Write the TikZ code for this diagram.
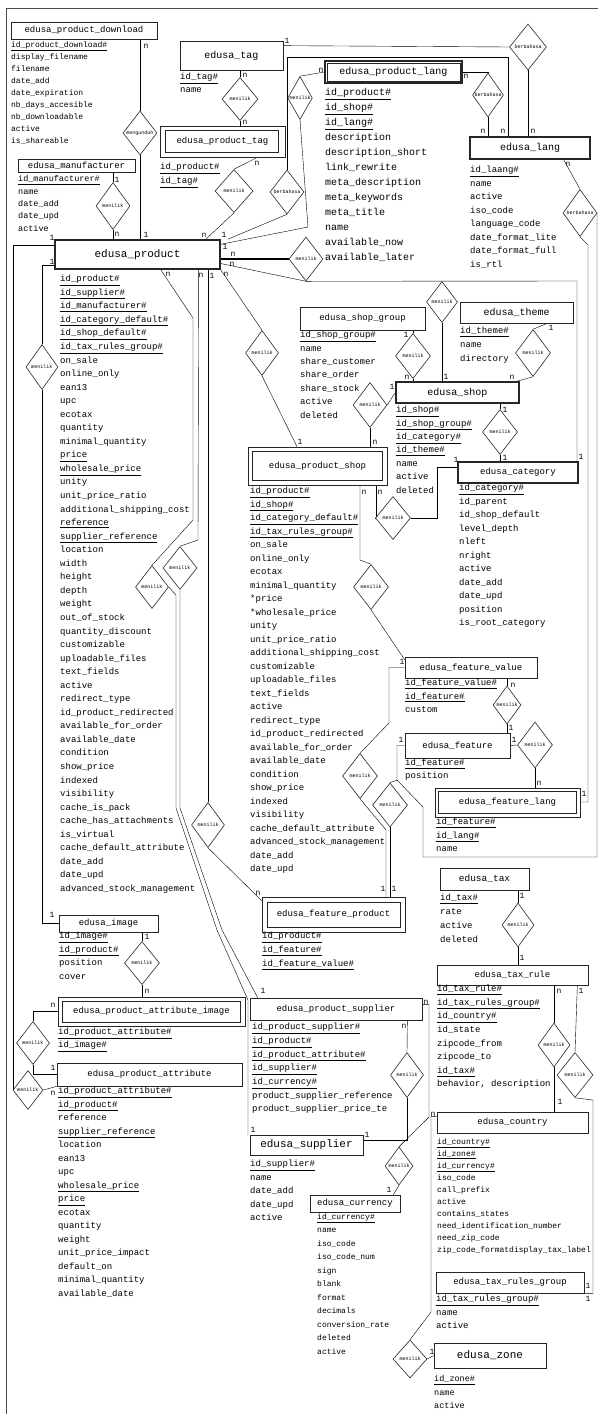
\documentclass[tikz,border=0pt]{standalone}
\usepackage{fontspec}
\setmainfont{Liberation Mono}
\usetikzlibrary{shapes.geometric,backgrounds}
\newcommand\pk[1]{\underline{#1}}
\newcommand\fsz[2]{\fontsize{#1}{#2}\selectfont}
\tikzset{
  ent/.style={draw=black!85, line width=0.7pt, inner sep=0pt, fill=white, font=\fsz{9}{11}},
  strong/.style={ent, line width=1.4pt},
  weak/.style={ent, line width=0.8pt},
  inner/.style={draw=black!85, line width=0.7pt},
  attr/.style={anchor=north west, align=left, inner sep=0pt, execute at begin node={\rule{0pt}{1em}}},
  rel/.style={draw=black!85, diamond, line width=0.6pt, inner sep=0pt, fill=white,
    minimum width=34pt, minimum height=44pt, font=\fsz{5}{6}},
  card/.style={inner sep=0pt, font=\fsz{8}{9}},
}
\begin{document}
\begin{tikzpicture}[x=1pt,y=-1pt]
	\useasboundingbox (0,0) rectangle (598,1414);
	\draw[black!70, line width=0.8pt] (6,1414) -- (6,8) -- (598,8);

	% entities, top
	\node[ent, minimum width=146pt, minimum height=17pt] (download) at (84,30.5) {edusa\_product\_download};
	\node[attr, font=\fsz{8}{12}] (download-a) at (11,41) {\pk{id\_product\_download\#}\\display\_filename\\filename\\date\_add\\date\_expiration\\nb\_days\_accesible\\nb\_downloadable\\active\\is\_shareable};
	\node[ent, minimum width=103pt, minimum height=29pt, font=\fsz{10}{12}] (tag) at (231.5,55.5) {edusa\_tag};
	\node[attr, font=\fsz{9}{13}] (tag-a) at (180,73) {\pk{id\_tag\#}\\name};
	\node[weak, minimum width=125pt, minimum height=31pt] (ptag) at (222.5,141.5) {edusa\_product\_tag};
	\draw[inner] ([shift={(6pt,-5pt)}]ptag.north west) rectangle ([shift={(-7pt,5pt)}]ptag.south east);
	\node[attr, font=\fsz{9}{14}] (ptag-a) at (160,163) {\pk{id\_product\#}\\\pk{id\_tag\#}};
	\node[ent, minimum width=117pt, minimum height=13pt] (manu) at (76.5,165.5) {edusa\_manufacturer};
	\node[attr, font=\fsz{8.5}{12.3}] (manu-a) at (18,175.5) {\pk{id\_manufacturer\#}\\name\\date\_add\\date\_upd\\active};
	\node[weak, line width=1.2pt, minimum width=137pt, minimum height=22pt, font=\fsz{10}{12}] (plang) at (393.5,72) {edusa\_product\_lang};
	\draw[inner] ([shift={(2.5pt,-2.5pt)}]plang.north west) rectangle ([shift={(-2.5pt,2.5pt)}]plang.south east);
	\node[attr, font=\fsz{10}{15}] (plang-a) at (325,88) {\pk{id\_product\#}\\\pk{id\_shop\#}\\\pk{id\_lang\#}\\description\\description\_short\\link\_rewrite\\meta\_description\\meta\_keywords\\meta\_title\\name\\available\_now\\available\_later};
	\node[strong, minimum width=120pt, minimum height=22pt, font=\fsz{10}{12}] (lang) at (530,148) {edusa\_lang};
	\node[attr, font=\fsz{9}{13.5}] (lang-a) at (470,166) {\pk{id\_laang\#}\\name\\active\\iso\_code\\language\_code\\date\_format\_lite\\date\_format\_full\\is\_rtl};

	% product
	\node[strong, minimum width=165pt, minimum height=29pt, font=\fsz{11}{13}] (product) at (137.5,254.5) {edusa\_product};
	\node[attr, font=\fsz{9}{13.55}] (product-a) at (60,275) {\pk{id\_product\#}\\\pk{id\_supplier\#}\\\pk{id\_manufacturer\#}\\\pk{id\_category\_default\#}\\\pk{id\_shop\_default\#}\\\pk{id\_tax\_rules\_group\#}\\on\_sale\\online\_only\\ean13\\upc\\ecotax\\quantity\\minimal\_quantity\\\pk{price}\\\pk{wholesale\_price}\\unity\\unit\_price\_ratio\\additional\_shipping\_cost\\\pk{reference}\\\pk{supplier\_reference}\\location\\width\\height\\depth\\weight\\out\_of\_stock\\quantity\_discount\\customizable\\uploadable\_files\\text\_fields\\active\\redirect\_type\\id\_product\_redirected\\available\_for\_order\\available\_date\\condition\\show\_price\\indexed\\visibility\\cache\_is\_pack\\cache\_has\_attachments\\is\_virtual\\cache\_default\_attribute\\date\_add\\date\_upd\\advanced\_stock\_management};

	% shop side
	\node[ent, minimum width=125pt, minimum height=23pt] (shopgroup) at (362.5,318.5) {edusa\_shop\_group};
	\node[attr, font=\fsz{9}{13.4}] (shopgroup-a) at (300,331) {\pk{id\_shop\_group\#}\\name\\share\_customer\\share\_order\\share\_stock\\active\\deleted};
	\node[ent, minimum width=113pt, minimum height=21pt, font=\fsz{10}{12}] (theme) at (516.5,312.5) {edusa\_theme};
	\node[attr, font=\fsz{9}{14}] (theme-a) at (460,327) {\pk{id\_theme\#}\\name\\directory};
	\node[strong, minimum width=123pt, minimum height=21pt, font=\fsz{10}{12}] (shop) at (457.5,392.5) {edusa\_shop};
	\node[attr, font=\fsz{9}{13.4}] (shop-a) at (396,406) {\pk{id\_shop\#}\\\pk{id\_shop\_group\#}\\\pk{id\_category\#}\\\pk{id\_theme\#}\\name\\active\\deleted};
	\node[strong, minimum width=120pt, minimum height=21pt] (category) at (518,472.5) {edusa\_category};
	\node[attr, font=\fsz{9}{13.5}] (category-a) at (459,484) {\pk{id\_category\#}\\id\_parent\\id\_shop\_default\\level\_depth\\nleft\\nright\\active\\date\_add\\date\_upd\\position\\is\_root\_category};
	\node[weak, minimum width=139pt, minimum height=38pt] (pshop) at (317.5,466) {edusa\_product\_shop};
	\draw[inner] ([shift={(5pt,-5pt)}]pshop.north west) rectangle ([shift={(-5pt,5pt)}]pshop.south east);
	\node[attr, font=\fsz{9}{13.5}] (pshop-a) at (250,487) {\pk{id\_product\#}\\\pk{id\_shop\#}\\\pk{id\_category\_default\#}\\\pk{id\_tax\_rules\_group\#}\\on\_sale\\online\_only\\ecotax\\minimal\_quantity\\*price\\*wholesale\_price\\unity\\unit\_price\_ratio\\additional\_shipping\_cost\\customizable\\uploadable\_files\\text\_fields\\active\\redirect\_type\\id\_product\_redirected\\available\_for\_order\\available\_date\\condition\\show\_price\\indexed\\visibility\\cache\_default\_attribute\\advanced\_stock\_management\\date\_add\\date\_upd};

	% feature side
	\node[ent, minimum width=132pt, minimum height=21pt] (fvalue) at (471,667.5) {edusa\_feature\_value};
	\node[attr, font=\fsz{9}{13.5}] (fvalue-a) at (405,679) {\pk{id\_feature\_value\#}\\\pk{id\_feature\#}\\custom};
	\node[ent, line width=1pt, minimum width=105pt, minimum height=25pt] (feature) at (457.5,745.5) {edusa\_feature};
	\node[attr, font=\fsz{9}{13}] (feature-a) at (405,759) {\pk{id\_feature\#}\\position};
	\node[weak, minimum width=145pt, minimum height=29pt] (flang) at (507.5,802.5) {edusa\_feature\_lang};
	\draw[inner] ([shift={(4pt,-4pt)}]flang.north west) rectangle ([shift={(-4pt,4pt)}]flang.south east);
	\node[attr, font=\fsz{9}{13.5}] (flang-a) at (436,818) {\pk{id\_feature\#}\\\pk{id\_lang\#}\\name};
	\node[weak, minimum width=143pt, minimum height=35pt] (fproduct) at (333.5,914.5) {edusa\_feature\_product};
	\draw[inner] ([shift={(5.5pt,-5.5pt)}]fproduct.north west) rectangle ([shift={(-5.5pt,5.5pt)}]fproduct.south east);
	\node[attr, font=\fsz{9}{14}] (fproduct-a) at (262,932) {\pk{id\_product\#}\\\pk{id\_feature\#}\\\pk{id\_feature\_value\#}};

	% tax side
	\node[ent, minimum width=89pt, minimum height=22pt, font=\fsz{9.5}{11}] (tax) at (484.5,879) {edusa\_tax};
	\node[attr, font=\fsz{9}{14}] (tax-a) at (440,894) {\pk{id\_tax\#}\\rate\\active\\deleted};
	\node[ent, minimum width=151pt, minimum height=20pt] (taxrule) at (512.5,975) {edusa\_tax\_rule};
	\node[attr, font=\fsz{9}{13.6}] (taxrule-a) at (437,985) {\pk{id\_tax\_rule\#}\\\pk{id\_tax\_rules\_group\#}\\\pk{id\_country\#}\\id\_state\\zipcode\_from\\zipcode\_to\\\pk{id\_tax\#}\\behavior, description};
	\node[ent, minimum width=151pt, minimum height=21pt] (country) at (512.5,1122.5) {edusa\_country};
	\node[attr, font=\fsz{8}{12}] (country-a) at (437,1138) {\pk{id\_country\#}\\\pk{id\_zone\#}\\\pk{id\_currency\#}\\iso\_code\\call\_prefix\\active\\contains\_states\\need\_identification\_number\\need\_zip\_code\\zip\_code\_formatdisplay\_tax\_label};
	\node[ent, minimum width=148pt, minimum height=21pt] (trg) at (510,1282.5) {edusa\_tax\_rules\_group};
	\node[attr, font=\fsz{9}{13.5}] (trg-a) at (436,1295) {\pk{id\_tax\_rules\_group\#}\\name\\active};
	\node[ent, minimum width=112pt, minimum height=25pt, font=\fsz{11}{13}] (zone) at (490,1355.5) {edusa\_zone};
	\node[attr, font=\fsz{8.5}{13.5}] (zone-a) at (434,1375.5) {\pk{id\_zone\#}\\name\\active};

	% supplier side
	\node[ent, minimum width=172pt, minimum height=22pt] (psup) at (336,1009) {edusa\_product\_supplier};
	\node[attr, font=\fsz{9}{13.7}] (psup-a) at (252,1023) {\pk{id\_product\_supplier\#}\\\pk{id\_product\#}\\\pk{id\_product\_attribute\#}\\\pk{id\_supplier\#}\\\pk{id\_currency\#}\\product\_supplier\_reference\\product\_supplier\_price\_te};
	\node[ent, line width=1pt, minimum width=113pt, minimum height=20pt, font=\fsz{11}{13}] (supplier) at (306.5,1145) {edusa\_supplier};
	\node[attr, font=\fsz{9}{13.5}] (supplier-a) at (250,1160) {\pk{id\_supplier\#}\\name\\date\_add\\date\_upd\\active};
	\node[ent, minimum width=90pt, minimum height=17pt] (currency) at (355,1203.5) {edusa\_currency};
	\node[attr, font=\fsz{8}{13.5}] (currency-a) at (317,1213) {\pk{id\_currency\#}\\name\\iso\_code\\iso\_code\_num\\sign\\blank\\format\\decimals\\conversion\_rate\\deleted\\active};

	% image / attribute side
	\node[ent, minimum width=99pt, minimum height=17pt] (image) at (108.5,923.5) {edusa\_image};
	\node[attr, font=\fsz{9}{13.5}] (image-a) at (59,932) {\pk{id\_image\#}\\\pk{id\_product\#}\\position\\cover};
	\node[weak, minimum width=187pt, minimum height=29pt] (aimg) at (151.5,1011.5) {edusa\_product\_attribute\_image};
	\draw[inner] ([shift={(5pt,-5pt)}]aimg.north west) rectangle ([shift={(-5pt,4pt)}]aimg.south east);
	\node[attr, font=\fsz{9}{13}] (aimg-a) at (58,1028) {\pk{id\_product\_attribute\#}\\\pk{id\_image\#}};
	\node[ent, minimum width=185pt, minimum height=23pt] (pattr) at (149.5,1074.5) {edusa\_product\_attribute};
	\node[attr, font=\fsz{9}{13.5}] (pattr-a) at (58,1087) {\pk{id\_product\_attribute\#}\\\pk{id\_product\#}\\reference\\\pk{supplier\_reference}\\location\\ean13\\upc\\\pk{wholesale\_price}\\\pk{price}\\ecotax\\quantity\\weight\\unit\_price\_impact\\default\_on\\minimal\_quantity\\available\_date};

	% relationships
	\node[rel] (dDown) at (140,133) {mengunduh};
	\node[rel, minimum height=47pt] (dManu) at (113,206) {menilik};
	\node[rel, minimum width=36pt, minimum height=43pt] (dTag) at (240,99) {menilik};
	\node[rel, minimum width=38pt, minimum height=43pt] (dPtag) at (234,191) {menilik};
	\node[rel, minimum width=24pt, minimum height=43pt] (dPlang) at (300,98) {menilik};
	\node[rel] (dBerb) at (287,192) {berbahasa};
	\node[rel, minimum width=37pt, minimum height=46pt] (dBerbTag) at (528,47) {berbahasa};
	\node[rel, minimum width=31pt] (dBerbPL) at (488,95) {berbahasa};
	\node[rel, minimum height=47pt] (dBerbL) at (580,213) {berbahasa};
	\node[rel] (dProdR) at (306,259) {menilik};
	\node[rel, minimum width=31pt, minimum height=41pt] (dShopTop) at (442,302) {menilik};
	\node[rel, minimum width=35pt, minimum height=45pt] (dSG) at (413,356) {menilik};
	\node[rel, minimum width=35pt, minimum height=47pt] (dTheme) at (533,353) {menilik};
	\node[rel, minimum width=35pt, minimum height=45pt] (dSC) at (500,432) {menilik};
	\node[rel, minimum height=45pt] (dSPS) at (370,405) {menilik};
	\node[rel, minimum width=33pt, minimum height=45pt] (dPS) at (262,353) {menilik};
	\node[rel, minimum width=35pt, minimum height=43pt] (dPSC) at (393,518) {menilik};
	\node[rel, minimum width=35pt, minimum height=45pt] (dPSF) at (371,587) {menilik};
	\node[rel, minimum width=28pt, minimum height=38pt] (dFV) at (507,705) {menilik};
	\node[rel, minimum width=35pt, minimum height=46pt] (dFL) at (535,745) {menilik};
	\node[rel, minimum width=35pt, minimum height=45pt] (dFP1) at (360,776) {menilik};
	\node[rel, minimum width=35pt] (dFP2) at (390,805) {menilik};
	\node[rel, minimum width=33pt, minimum height=43pt] (dA) at (152,587) {menilik};
	\node[rel, minimum height=43pt] (dB) at (180,568) {menilik};
	\node[rel, minimum width=33pt, minimum height=45pt] (dC) at (208,825) {menilik};
	\node[rel, minimum width=32pt, minimum height=45pt] (dPL) at (42,367) {menilik};
	\node[rel, minimum width=35pt, minimum height=43pt] (dImg) at (142,963) {menilik};
	\node[rel, minimum width=33pt, minimum height=43pt] (dAI) at (33,1043) {menilik};
	\node[rel, minimum width=30pt, minimum height=39pt] (dPA) at (28,1090) {menilik};
	\node[rel, minimum width=32pt] (dTax) at (518,925) {menilik};
	\node[rel, minimum width=32pt] (dTR1) at (554,1045) {menilik};
	\node[rel, minimum width=36pt, minimum height=45pt] (dTR2) at (575,1075) {menilik};
	\node[rel, minimum height=38pt] (dCZ) at (410,1359) {menilik};
	\node[rel, minimum width=33pt, minimum height=45pt] (dPSup) at (407,1075) {menilik};
	\node[rel, minimum width=28pt, minimum height=38pt] (dCur) at (399,1166) {menilik};

	% connectors
	\begin{scope}[on background layer, draw=black!85, line width=0.6pt]
		\coordinate (kLang) at (508,57);
		\coordinate (kPl) at (308,227);
		\coordinate (kFl) at (588,802);
		\coordinate (kLp) at (597,857);
		\coordinate (kF) at (397,780);
		\coordinate (kCat) at (577,281);
		\coordinate (kTrg) at (593,1100);

		\draw (download.south -| dDown.north) -- (dDown.north);
		\draw (dDown.south) -- (dDown.south |- product.north);
		\draw (manu.south -| dManu.north) -- (dManu.north);
		\draw (dManu.south) -- (dManu.south |- product.north);
		\draw (tag.south -| dTag.north) -- (dTag.north);
		\draw (dTag.south) -- (dTag.south |- ptag.north);
		\draw ([xshift=-28pt]ptag.south east) -- (dPtag.north);
		\draw (dPtag.south) -- ([xshift=-15pt]product.north east);
		\draw ([xshift=7pt]product.north east) -- (dBerb.south);
		\draw (dBerb.north) |- (kLang) -- (kLang |- lang.north);
		\draw (dPlang.north) -- (plang.west);
		\draw ([yshift=-5pt]product.north east) -- (kPl) -- (dPlang.south);
		\draw ([yshift=-5pt]tag.north east) -- (dBerbTag.west);
		\draw (dBerbTag.south) -- (dBerbTag.south |- lang.north);
		\draw (plang.east) -| (dBerbPL.north);
		\draw (dBerbPL.south) -- (dBerbPL.south |- lang.north);
		\draw ([xshift=-27pt]lang.south east) -- (dBerbL.north);
		\draw (dBerbL.south) -- ++(8,8) -- (kFl) -- (kFl -| flang.east);
		\draw (dBerbL.east) -| (kLp) -- (423,857) -- (423,807) -- (kF) |- (feature.west);
		\draw (dFP2.north) -- (kF);

		\draw[line width=1.2pt] ([yshift=-4.5pt]product.east) -- (dProdR.west);
		\draw ([yshift=-9pt]product.east) -- (dProdR.south);
		\draw (dProdR.south) -- (kCat) -- (kCat |- category.north);
		\draw (dShopTop.south) -- (dShopTop.south |- shop.north);
		\draw (product.south east) -- (dPS.north);
		\draw (dPS.south) -- ([xshift=-20.5pt]pshop.north);
		\draw (shopgroup.south -| dSG.north) -- (dSG.north);
		\draw (dSG.south) -- (dSG.south |- shop.north);
		\draw ([xshift=-26pt]theme.south east) -- (dTheme.north);
		\draw (dTheme.south) -- ([xshift=-3pt]shop.north east);
		\draw (shop.south -| dSC.north) -- (dSC.north);
		\draw (dSC.south) -- (dSC.south |- category.north);
		\draw (shop.west) -- (dSPS.east);
		\draw (dSPS.south) -- (dSPS.south |- pshop.north);
		\draw ([xshift=58.5pt]pshop.south) |- (dPSC.west);
		\draw (dPSC.east) -| (437,467) -- ([yshift=5.5pt]category.west);
		\draw ([xshift=42.5pt]pshop.south) -- (360,560) -- (dPSF.north);
		\draw (dPSF.south) -- ([yshift=-3pt]fvalue.north west);

		\draw (fvalue.west) -| (389,723) -- (dFP1.north);
		\draw (dFP1.south) -- (386,830) -- (fproduct.north -| 386,830);
		\draw (dFP2.south) -- (dFP2.south |- fproduct.north);
		\draw (fvalue.south -| dFV.north) -- (dFV.north);
		\draw (dFV.south) -- (dFV.south |- feature.north);
		\draw (feature.east) -- (dFL.west);
		\draw (dFL.south) -- (dFL.south |- flang.north);

		\draw (product.south -| dC.north) -- (dC.north);
		\draw (dC.south) -- ([yshift=-4pt]fproduct.north west);
		\draw ([xshift=-60pt]product.south east) -- (193,318) -- (193,520) -- (dA.north);
		\draw (dA.east) -- (176,595) -- (176,808) -- (217,930) -- (248,1000) |- ([xshift=-2pt]supplier.north west);
		\draw ([xshift=-22pt]product.south east) -- (198,540) -- (dB.north);
		\draw (dB.south) -- (180,808) -- (222,930) -- ([xshift=8pt]psup.north west);

		\draw ([yshift=9.5pt]product.west) -| (dPA.west);
		\draw (dPA.east) -- (pattr.south west);
		\draw ([yshift=-10.5pt]product.west) -| (dPL.north);
		\draw (dPL.south) |- (image.west);
		\draw (image.south -| dImg.north) -- (dImg.north);
		\draw (dImg.south) -- (dImg.south |- aimg.north);
		\draw (aimg.west) -| (dAI.north);
		\draw (dAI.south) |- (pattr.west);

		\draw (tax.south -| dTax.north) -- (dTax.north);
		\draw (dTax.south) -- (dTax.south |- taxrule.north);
		\draw (taxrule.south -| dTR1.north) -- (dTR1.north);
		\draw (dTR1.south) -- (dTR1.south |- country.north);
		\draw ([xshift=-11pt]taxrule.south east) -- (dTR2.north);
		\draw (dTR2.south) -- (kTrg) |- (trg.south east);
		\draw ([yshift=-5pt]country.north west) -| (431,1312) -- (dCZ.north);
		\draw (dCZ.east) -- (zone.west);
		\draw ([xshift=-15pt]psup.south east) -- (dPSup.north);
		\draw (dPSup.south) |- ([yshift=5pt]supplier.east);
		\draw ([yshift=-7pt]psup.north east) -| (429,1117) -- (dCur.north);
		\draw (dCur.south) -- ([xshift=-7pt]currency.north east);
	\end{scope}

	% cardinalities
	\node[card] (c1) at (146,46) {n};
	\node[card] (c2) at (146,235) {1};
	\node[card] (c3) at (117,180) {1};
	\node[card] (c4) at (117,234) {n};
	\node[card] (c5) at (287,41) {1};
	\node[card] (c6) at (533,131) {n};
	\node[card] (c7) at (245,75) {n};
	\node[card] (c8) at (245,122) {n};
	\node[card] (c9) at (257,163) {n};
	\node[card] (c10) at (204,235) {n};
	\node[card] (c11) at (224,235) {1};
	\node[card] (c12) at (503,131) {n};
	\node[card] (c13) at (321,70) {n};
	\node[card] (c14) at (225,247) {1};
	\node[card] (c15) at (466,76) {n};
	\node[card] (c16) at (483,131) {n};
	\node[card] (c17) at (568,164) {n};
	\node[card] (c18) at (584,794) {1};
	\node[card] (c19) at (401,740) {1};
	\node[card] (c20) at (233,254) {n};
	\node[card] (c21) at (232,264) {n};
	\node[card] (c22) at (581,457) {1};
	\node[card] (c23) at (446,377) {1};
	\node[card] (c24) at (226,274) {n};
	\node[card] (c25) at (300,442) {1};
	\node[card] (c26) at (406,335) {1};
	\node[card] (c27) at (407,377) {n};
	\node[card] (c28) at (551,328) {1};
	\node[card] (c29) at (512,377) {n};
	\node[card] (c30) at (505,410) {1};
	\node[card] (c31) at (505,458) {1};
	\node[card] (c32) at (392,387) {1};
	\node[card] (c33) at (375,442) {n};
	\node[card] (c34) at (380,492) {n};
	\node[card] (c35) at (456,460) {1};
	\node[card] (c36) at (364,492) {n};
	\node[card] (c37) at (402,662) {1};
	\node[card] (c38) at (383,889) {1};
	\node[card] (c39) at (394,889) {1};
	\node[card] (c40) at (513,685) {n};
	\node[card] (c41) at (511,728) {1};
	\node[card] (c42) at (514,740) {1};
	\node[card] (c43) at (539,783) {n};
	\node[card] (c44) at (212,276) {1};
	\node[card] (c45) at (258,893) {n};
	\node[card] (c46) at (168,274) {n};
	\node[card] (c47) at (201,275) {n};
	\node[card] (c48) at (263,991) {1};
	\node[card] (c49) at (253,1130) {1};
	\node[card] (c50) at (52,238) {1};
	\node[card] (c51) at (53,1093) {n};
	\node[card] (c52) at (52,262) {1};
	\node[card] (c53) at (52,915) {1};
	\node[card] (c54) at (147,937) {1};
	\node[card] (c55) at (147,991) {n};
	\node[card] (c56) at (53,1005) {n};
	\node[card] (c57) at (53,1068) {1};
	\node[card] (c58) at (522,896) {1};
	\node[card] (c59) at (522,958) {1};
	\node[card] (c60) at (559,991) {n};
	\node[card] (c61) at (560,1102) {1};
	\node[card] (c62) at (581,991) {1};
	\node[card] (c63) at (588,1286) {1};
	\node[card] (c64) at (588,1299) {1};
	\node[card] (c65) at (433,1114) {n};
	\node[card] (c66) at (432,1352) {1};
	\node[card] (c67) at (404,1026) {n};
	\node[card] (c68) at (367,1135) {1};
	\node[card] (c69) at (426,1002) {n};
	\node[card] (c70) at (389,1190) {1};
\end{tikzpicture}
\end{document}
